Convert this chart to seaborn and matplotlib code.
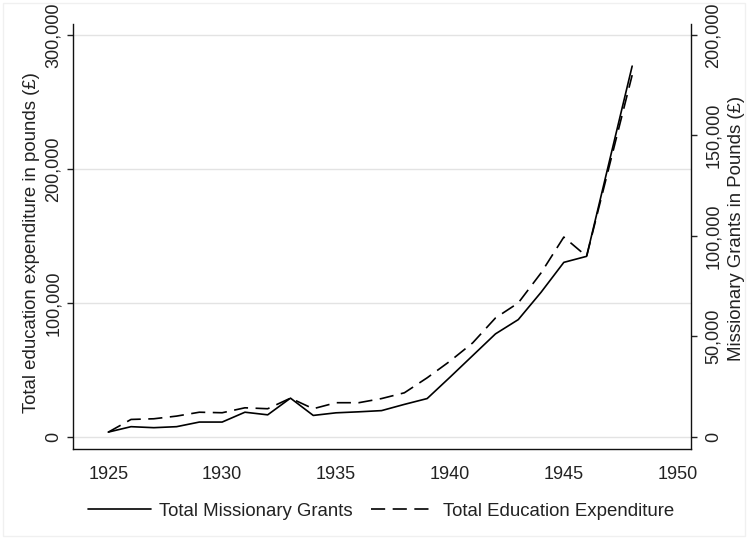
import matplotlib
matplotlib.use("Agg")
import matplotlib.pyplot as plt
import matplotlib.ticker as mtick
from matplotlib import font_manager
from matplotlib.patches import Rectangle
import seaborn as sns

# --- dados (valores em libras) ---
anos = [1925, 1926, 1927, 1928, 1929, 1930, 1931, 1932, 1933, 1934, 1935, 1936,
        1937, 1938, 1939, 1940, 1941, 1942, 1943, 1944, 1945, 1946, 1948]
missionary_grants = [2300, 5000, 4500, 5000, 7300, 7300, 12200, 10900, 19200, 10600,
                     11900, 12400, 13000, 16100, 19000, 29600, 40400, 51200, 58300,
                     71900, 86800, 89800, 184500]
education_expenditure = [3400, 12900, 13400, 15400, 18300, 17900, 21600, 20900, 28800,
                         20900, 25400, 25400, 28500, 32800, 44000, 56400, 70100, 88700,
                         99900, 122300, 149100, 134700, 270000]

ticks_esq = [0, 100000, 200000, 300000]
ticks_dir = [0, 50000, 100000, 150000, 200000]
ticks_x = [1925, 1930, 1935, 1940, 1945, 1950]

sns.set_style("white")

# fonte estreita se existir, senão Liberation Sans menor
nomes = {f.name for f in font_manager.fontManager.ttflist}
fonte = [n for n in ["Liberation Sans Narrow", "Liberation Sans", "DejaVu Sans"] if n in nomes]
plt.rcParams['font.family'] = fonte
COR_TXT = "#222222"
TAM_TICK = 13
TAM_TXT = 13.4

fig = plt.figure(figsize=(7.48, 5.39), dpi=100)
ax = fig.add_axes([0.0972, 0.1664, 0.9234 - 0.0972, 0.9555 - 0.1664])
ax2 = ax.twinx()

sns.lineplot(x=anos, y=education_expenditure, ax=ax, color="black",
             linewidth=1.2, linestyle=(0, (8.5, 4.5)), label="Total Education Expenditure")
sns.lineplot(x=anos, y=missionary_grants, ax=ax2, color="black",
             linewidth=1.2, label="Total Missionary Grants")

ax.set_xlim(1923.44, 1950.57)
ax.set_ylim(-9400, 308200)
ax2.set_ylim(-9400 / 1.5, 308200 / 1.5)

ax.set_xticks(ticks_x)
ax.set_yticks(ticks_esq)
ax2.set_yticks(ticks_dir)
fmt = mtick.FuncFormatter(lambda v, _: f"{v:,.0f}")
ax.yaxis.set_major_formatter(fmt)
ax2.yaxis.set_major_formatter(fmt)

ax.grid(axis="y", color="#e3e3e3", linewidth=1.0)
ax.grid(axis="x", visible=False)
ax2.grid(False)

for lado in ["top", "right"]:
    ax.spines[lado].set_visible(False)
for lado in ["top", "left", "bottom"]:
    ax2.spines[lado].set_visible(False)
for s in [ax.spines["left"], ax.spines["bottom"], ax2.spines["right"]]:
    s.set_color("#111111")
    s.set_linewidth(1.0)

ax.tick_params(axis="x", length=5, width=1, pad=7, colors=COR_TXT, labelsize=TAM_TICK)
ax.tick_params(axis="y", length=4.3, width=1, pad=3.5, colors=COR_TXT, labelsize=TAM_TICK,
               left=True, labelrotation=90)
ax2.tick_params(axis="y", length=4.3, width=1, pad=6, colors=COR_TXT, labelsize=TAM_TICK,
                right=True, labelrotation=90)
for t in ax.get_yticklabels():
    t.set_va("center")
for t in ax2.get_yticklabels():
    t.set_va("center")

ax.set_xlabel("")
ax.set_ylabel("Total education expenditure in pounds (£)", fontsize=TAM_TXT, color=COR_TXT)
ax2.set_ylabel("Missionary Grants in Pounds (£)", fontsize=TAM_TXT, color=COR_TXT,
               rotation=90)
ax.yaxis.set_label_coords(-0.0529, 0.487)
ax2.yaxis.set_label_coords(1.0605, 0.52)

# legenda embaixo, sem moldura
h1, l1 = ax2.get_legend_handles_labels()
h2, l2 = ax.get_legend_handles_labels()
ax.get_legend().remove()
ax2.get_legend().remove()
fig.legend(h1 + h2, l1 + l2, loc="center", bbox_to_anchor=(381 / 748, 1 - 511 / 539),
           ncol=2, frameon=False, fontsize=TAM_TXT, handlelength=3.4, handletextpad=0.45,
           columnspacing=1.0, labelcolor=COR_TXT)

fig.patches.append(Rectangle((0.004, 0.006), 0.992, 0.988, transform=fig.transFigure,
                             fill=False, edgecolor="#f0f0f0", linewidth=1))

fig.savefig("out.png", dpi=100)
